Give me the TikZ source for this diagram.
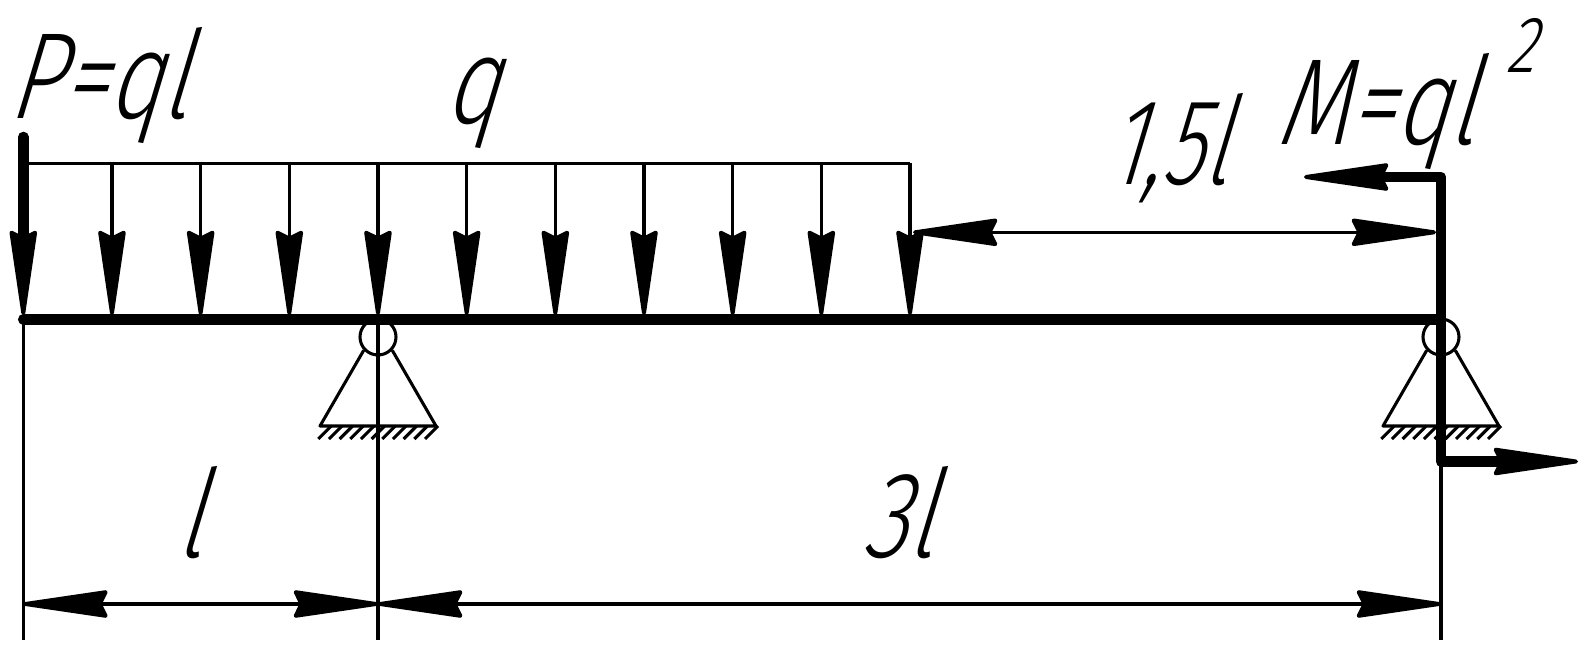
\documentclass[tikz,border=0pt]{standalone}
\usepackage{fontspec}
\usetikzlibrary{arrows.meta}
\newfontfamily\gostfont[FakeSlant=0.3,FakeStretch=0.76]{Fira Sans Light}
\newfontfamily\gostnarrow[FakeSlant=0.3,FakeStretch=0.7]{Fira Sans Light}
\tikzset{
  thinline/.style={line width=2.3pt},
  beamline/.style={line width=8pt,line cap=round,line join=round},
  bigtip/.tip={Stealth[length=73pt,width=21pt,inset=5pt,line width=3pt,round]},
  labeltext/.style={anchor=base west,inner sep=0pt,font=\gostfont\fontsize{92}{92}\selectfont},
  hinge/.style={circle,draw,line width=2.3pt,minimum size=27pt,inner sep=0pt}
}
\begin{document}
\begin{tikzpicture}[x=0.75pt,y=0.75pt,yscale=-1,xscale=1]
\useasboundingbox (0,0) rectangle (1586,648);

% beam points
\coordinate (beamL) at (23.3,319.3);
\coordinate (beamR) at (1441,319.3);
\coordinate (loadL) at (23.3,163.3);
\coordinate (loadR) at (910,163.3);
\coordinate (dimL) at (23.3,640);
\coordinate (dimB) at (378,640);
\coordinate (dimC) at (1441,640);
\coordinate (dimLa) at (23.3,604);
\coordinate (dimBa) at (378,604);
\coordinate (dimCa) at (1441,604);
\coordinate (momA) at (1304,177);
\coordinate (momB) at (1441,177);
\coordinate (momC) at (1441,461.5);
\coordinate (momD) at (1578,461.5);
\coordinate (spanL) at (913,232.3);
\coordinate (spanR) at (1436,232.3);

%Supports
\foreach \sx/\sname in {378/B,1441/C}{
  \node [hinge] (hinge\sname) at (\sx,337) {};
  \draw [thinline,line join=round] (hinge\sname.223) -- (\sx-58,426) -- (\sx+58,426) -- (hinge\sname.317);
  \foreach \n in {0,...,10}
    \draw [thinline] (\sx-59.7+10.67*\n,439) -- ++(13,-13);
}

%Dimension lines
\draw [thinline] (beamL) -- (dimL);
\draw [thinline] (beamL -| dimB) -- (dimB);
\draw [thinline] (momC) -- (dimC);
\draw [thinline,bigtip-bigtip] (dimLa) -- (dimBa);
\draw [thinline,bigtip-bigtip] (dimBa) -- (dimCa);
\draw [thinline,bigtip-bigtip] (spanL) -- (spanR);

%Distributed load
\draw [thinline] (loadL) -- (loadR);
\foreach \i in {1,...,10}
  \draw [thinline,-bigtip] (23.3+88.67*\i,163.3) -- (23.3+88.67*\i,315);

%Force P
\draw [beamline,-bigtip] (23.3,137) -- (23.3,315);

%Beam
\draw [beamline] (beamL) -- (beamR);

%Moment M
\draw [beamline,bigtip-bigtip] (momA) -- (momB) -- (momC) -- (momD);

% Text Node
\node [labeltext] (forceP) at (7,119) {P=ql};
\node [labeltext] (loadq) at (443,124) {q};
\node [labeltext,font=\gostnarrow\fontsize{92}{92}\selectfont] (spanA) at (1106,185) {1,5l};
\node [labeltext] (momM) at (1275,145) {M=ql};
\node [labeltext,font=\gostfont\fontsize{60}{60}\selectfont] (momExp) at (1505,73) {2};
\node [labeltext] (dimAB) at (175,557) {l};
\node [labeltext] (dimBC) at (861,557) {3l};
\end{tikzpicture}
\end{document}
